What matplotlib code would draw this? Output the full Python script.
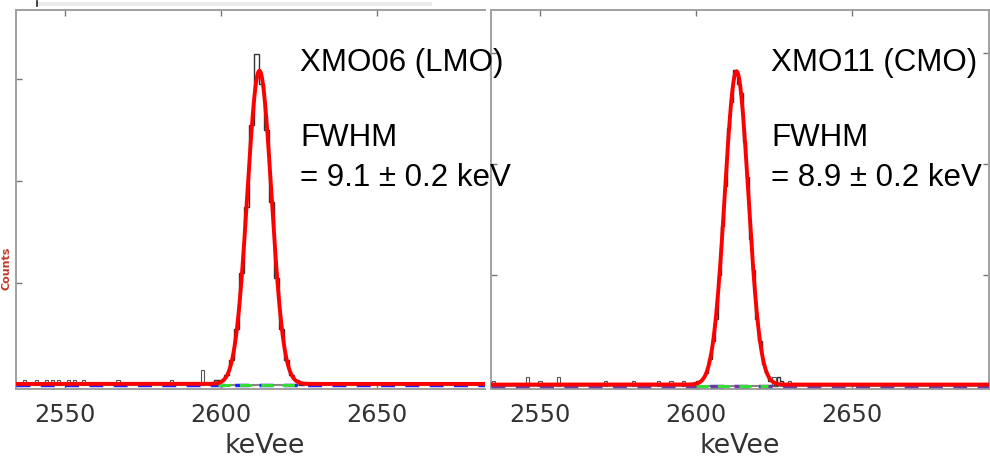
import numpy as np
import matplotlib.pyplot as plt
from matplotlib.lines import Line2D

# 피크 영역 히스토그램 (bin 경계, 카운트)
lmo_edges = np.arange(2596.3, 2627.0, 1.6)
lmo_counts = [0, 1, 1, 2, 5, 11, 22, 35, 51, 65, 59, 50, 36, 21, 11, 5, 2, 1, 0]
cmo_edges = np.arange(2598.0, 2631.0, 1.0)
cmo_counts = [0, 0, 1, 1, 2, 3, 6, 10, 15, 25, 36, 45, 58, 64, 71, 68,
              66, 55, 47, 33, 26, 15, 10, 5, 3, 1, 1, 0, 2, 1, 0, 0]

# 배경 영역의 작은 bin들
lmo_bg_e = [2537, 2541, 2544, 2546, 2548, 2551, 2553, 2556, 2567, 2584, 2594]
lmo_bg_c = [1, 1, 1, 1, 1, 1, 1, 1, 1, 1, 3]
cmo_bg_e = [2535, 2546, 2550, 2556, 2571, 2580, 2588, 2592, 2596, 2625, 2630]
cmo_bg_c = [1, 2, 1, 2, 1, 1, 1, 1, 1, 2, 1]

# 가우시안 피팅 결과
lmo_fit = dict(mu=2612.3, fwhm=9.1, amp=61.4, bkg=0.3)
cmo_fit = dict(mu=2613.0, fwhm=8.9, amp=70.5, bkg=0.3)

labels = ['XMO06 (LMO)', 'XMO11 (CMO)']
fwhm_txt = ['= 9.1 ± 0.2 keV', '= 8.9 ± 0.2 keV']
xticks = [2550, 2600, 2650]

W, H = 990, 461
fig = plt.figure(figsize=(9.9, 4.61), dpi=100)

def px(l, t, r, b):
    return [l / W, 1 - b / H, (r - l) / W, (b - t) / H]

ax1 = fig.add_axes(px(16, 10, 485, 389))
ax2 = fig.add_axes(px(491, 10, 989, 389))

def gauss(x, p):
    s = p['fwhm'] / 2.3548
    return p['amp'] * np.exp(-(x - p['mu']) ** 2 / (2 * s * s)) + p['bkg']

setup = [
    (ax1, lmo_edges, lmo_counts, lmo_bg_e, lmo_bg_c, lmo_fit, (2534.3, 2684.6), 73.6, [0, 20, 40, 60], '#1f1fff', (2599, 2626)),
    (ax2, cmo_edges, cmo_counts, cmo_bg_e, cmo_bg_c, cmo_fit, (2534.3, 2693.9), 84.6, [0, 25, 50, 75], '#6a3aa8', (2600, 2623)),
]

for ax, edges, counts, bge, bgc, fit, xl, ytop, yt, bcol, grange in setup:
    ax.stairs(counts, edges, color='#333333', lw=1.0, zorder=2)
    ax.bar(bge, bgc, width=1.0, fill=False, edgecolor='#555555', lw=0.8, zorder=2)
    ax.axhline(0, color='#888888', lw=1.5, zorder=1)
    ax.plot(xl, [0, 0], ls=(0, (4, 3)), color=bcol, lw=2.5, zorder=3)
    ax.plot(grange, [0, 0], ls=(0, (4, 3)), color='#33dd33', lw=2.2, zorder=4)
    x = np.linspace(xl[0], xl[1], 1500)
    ax.plot(x, gauss(x, fit), color='#ff0000', lw=2.8, zorder=5)

    ax.set_xlim(*xl)
    ax.set_ylim(-0.7, ytop)
    ax.set_xticks(xticks)
    ax.set_yticks(yt)
    ax.set_yticklabels([])
    ax.tick_params(direction='in', length=4, width=1, color='#777777',
                   top=True, labelsize=17.3, labelcolor='#333333', pad=10)
    for s in ax.spines.values():
        s.set_color('#a0a0a0')
        s.set_linewidth(1.4)
    ax.set_xlabel('keVee', fontsize=19.4, color='#333333', labelpad=6)

ax1.spines['right'].set_visible(False)
ax1.xaxis.set_label_coords(0.531, -0.115)
ax2.xaxis.set_label_coords(0.5, -0.115)
ax2.tick_params(axis='y', right=True)

# 주석 텍스트
for xp, lab, ft in [(300, labels[0], fwhm_txt[0]), (771, labels[1], fwhm_txt[1])]:
    fig.text(xp / W, 1 - 71.5 / H, lab, fontsize=22.5, family='Liberation Sans', va='baseline')
    fig.text(xp / W, 1 - 146.5 / H, 'FWHM', fontsize=22.5, family='Liberation Sans', va='baseline')
    fig.text(xp / W, 1 - 186 / H, ft, fontsize=22.5, family='Liberation Sans', va='baseline')

# 잘린 스크린샷 흔적
fig.add_artist(Line2D([40 / W, 430 / W], [1 - 4 / H, 1 - 4 / H], color='#ececec', lw=3))
fig.add_artist(Line2D([37 / W, 37 / W], [1 - 1 / H, 1 - 6 / H], color='#222222', lw=1.2))
fig.text(1 / W, 1 - 268 / H, 'Counts', rotation=90, color='#c0392b', fontsize=8,
         fontweight='bold', ha='left', va='center')

fig.savefig('out.png', dpi=100)
